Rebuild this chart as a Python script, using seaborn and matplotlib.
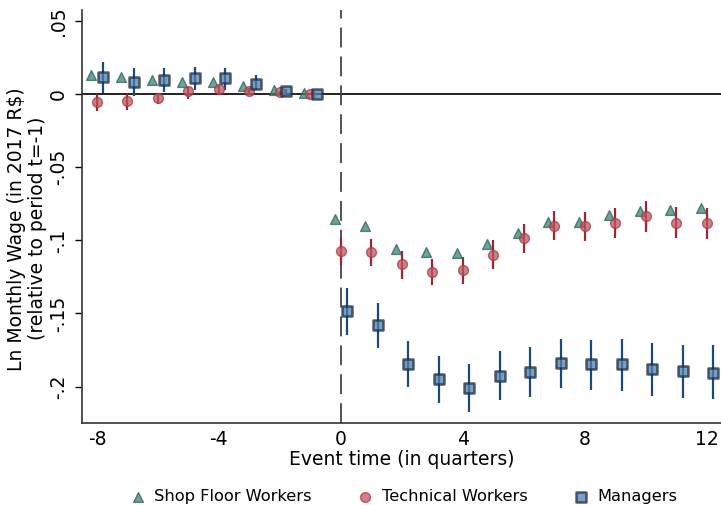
import numpy as np
import pandas as pd
import matplotlib
matplotlib.use("Agg")
import matplotlib.pyplot as plt
import seaborn as sns

# Event time in quarters (t = -1 is the reference period)
event_time = list(range(-8, 13))

# Point estimates
shop_floor = [0.013, 0.0116, 0.0096, 0.008, 0.008, 0.0055, 0.0027, 0.001,
              -0.0851, -0.090, -0.106, -0.108, -0.1087, -0.1023, -0.095,
              -0.0874, -0.0874, -0.0829, -0.080, -0.079, -0.0778]
technical = [-0.0053, -0.005, -0.0023, 0.0023, 0.0032, 0.0023, 0.0016, 0.0,
             -0.1073, -0.108, -0.1164, -0.1215, -0.120, -0.1098, -0.0984,
             -0.090, -0.0904, -0.0879, -0.0836, -0.0879, -0.0881]
managers = [0.0114, 0.0082, 0.0096, 0.011, 0.011, 0.0068, 0.0023, 0.0,
            -0.1484, -0.1582, -0.1849, -0.195, -0.2007, -0.1927, -0.1897,
            -0.184, -0.1849, -0.1849, -0.1879, -0.1895, -0.1904]

# 95% confidence bounds
technical_lo = [-0.0116, -0.011, -0.0064, -0.003, -0.0007, -0.0005, 0.0, 0.0,
                -0.117, -0.1178, -0.1262, -0.1308, -0.1297, -0.1194, -0.1084,
                -0.100, -0.1007, -0.0984, -0.0943, -0.0984, -0.0993]
technical_hi = [-0.0002, 0.0, -0.0002, 0.005, 0.006, 0.0045, 0.0025, 0.0,
                -0.0977, -0.0988, -0.1073, -0.1125, -0.1114, -0.100, -0.0886,
                -0.080, -0.0806, -0.0779, -0.0733, -0.0772, -0.0779]
managers_lo = [0.0005, -0.0014, 0.0014, 0.003, 0.003, 0.003, 0.0008, 0.0,
               -0.1644, -0.1737, -0.2005, -0.2112, -0.2171, -0.2091, -0.2073,
               -0.2011, -0.2023, -0.2027, -0.2062, -0.208, -0.2084]
managers_hi = [0.022, 0.0176, 0.018, 0.0187, 0.018, 0.0128, 0.0038, 0.0,
               -0.1324, -0.1427, -0.169, -0.1792, -0.1845, -0.176, -0.1731,
               -0.1674, -0.168, -0.1676, -0.1699, -0.1719, -0.1719]

groups = ["Shop Floor Workers", "Technical Workers", "Managers"]
xticks = [-8, -4, 0, 4, 8, 12]
yticks = [0.05, 0, -0.05, -0.1, -0.15, -0.2]
ytick_labels = [".05", "0", "-.05", "-.1", "-.15", "-.2"]

# Horizontal dodge so the three groups don't overlap
offsets = {"Shop Floor Workers": -0.2, "Technical Workers": 0.0, "Managers": 0.2}

rows = []
for g, vals in zip(groups, [shop_floor, technical, managers]):
    for t, v in zip(event_time, vals):
        rows.append({"t": t, "x": t + offsets[g], "coef": v, "group": g})
df = pd.DataFrame(rows)

sns.set_style("white")
plt.rcParams["font.family"] = ["DejaVu Sans"]
plt.rcParams["text.color"] = "black"
plt.rcParams["axes.labelcolor"] = "black"

fig = plt.figure(figsize=(7.21, 5.05), dpi=100)
ax = fig.add_axes([0.1137, 0.163, 0.8863, 0.817])

face = {"Shop Floor Workers": "#3f8478", "Technical Workers": "#c0555e", "Managers": "#4f7fb2"}
edge = {"Shop Floor Workers": "#2a6258", "Technical Workers": "#a63a45", "Managers": "#1c2c3e"}
ci_col = {"Technical Workers": "#9c2633", "Managers": "#1a4a7a"}

# reference lines
ax.axhline(0, color="#222222", lw=1.4, zorder=1)
ax.axvline(0, color="#444444", lw=1.3, dashes=(11, 5), zorder=1)

# confidence intervals
tx = np.array(event_time) + offsets["Technical Workers"]
mx = np.array(event_time) + offsets["Managers"]
ax.vlines(tx, technical_lo, technical_hi, color=ci_col["Technical Workers"], lw=1.6, zorder=2)
ax.vlines(mx, managers_lo, managers_hi, color=ci_col["Managers"], lw=1.6, zorder=2)

markers = {"Shop Floor Workers": "^", "Technical Workers": "o", "Managers": "s"}
sizes = {"Shop Floor Workers": 105, "Technical Workers": 95, "Managers": 90}
for g in groups:
    sub = df[df["group"] == g]
    sns.scatterplot(data=sub, x="x", y="coef", ax=ax, marker=markers[g],
                    s=sizes[g], color=face[g], edgecolor=edge[g],
                    linewidth=1.8 if g == "Managers" else 1.0,
                    alpha=0.75, zorder=3, label=g, legend=True)

ax.set_xlim(-8.49, 12.46)
ax.set_ylim(-0.2247, 0.0575)
ax.set_xticks(xticks)
ax.set_xticklabels([str(v) for v in xticks])
ax.set_yticks(yticks)
ax.set_yticklabels(ytick_labels, rotation=90, va="center")
ax.tick_params(axis="x", length=0, labelsize=13.5, pad=5, colors="black")
ax.tick_params(axis="y", length=5, width=1, direction="out", left=True,
               labelsize=13.5, pad=5, colors="black")
ax.set_xlabel("Event time (in quarters)", fontsize=13.5, labelpad=1)
ax.set_ylabel("Ln Monthly Wage (in 2017 R$)\n(relative to period t=-1)",
              fontsize=13.5, linespacing=1.15)
ax.yaxis.set_label_coords(-0.054, 0.47)

for side in ["top", "right"]:
    ax.spines[side].set_visible(False)
for side in ["left", "bottom"]:
    ax.spines[side].set_color("#333333")
    ax.spines[side].set_linewidth(1.2)

handles, labels = ax.get_legend_handles_labels()
for h in handles:
    h.set_sizes([50])
ax.legend(handles, labels, loc="lower center", bbox_to_anchor=(0.497, -0.213),
          ncol=3, frameon=False, fontsize=11.7, handletextpad=0.0,
          columnspacing=2.3, borderaxespad=0)

fig.savefig("out.png", dpi=100)
